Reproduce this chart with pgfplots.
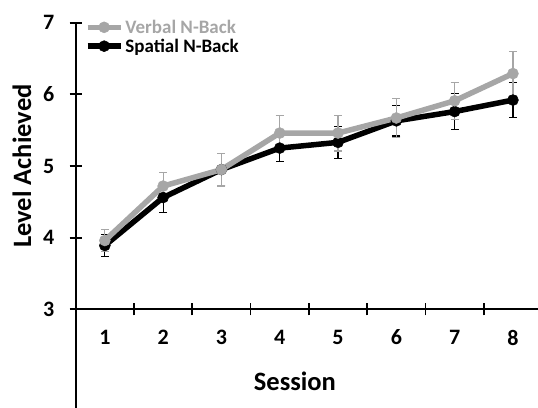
\documentclass[border=0pt]{standalone}
\usepackage{pgfplots}
\pgfplotsset{compat=1.18}
\usepackage{fontspec}
\setmainfont{Carlito}
\definecolor{vgray}{RGB}{166,166,166}
\pgfplotsset{mylegimg/.style={legend image code/.code={\draw[mark repeat=2,mark phase=2,##1] plot coordinates {(0pt,0pt) (16.5pt,0pt) (33pt,0pt)};}}}
\begin{document}
\begin{tikzpicture}
\path[use as bounding box, clip] (-75.7pt,-97.7pt) rectangle (462.3pt,309.3pt);
\begin{axis}[
  at={(0,0)}, anchor=south west,
  scale only axis, width=462.3pt, height=286.6pt,
  xmin=0.5, xmax=8.43, ymin=3, ymax=7,
  clip=false,
  axis x line=bottom, axis y line=left,
  axis line style={-, line width=2pt},
  xtick={1.5,2.5,...,7.5}, xticklabels={},
  extra x ticks={1,2,...,8},
  extra tick style={major tick length=0pt},
  ytick={3,4,5,6,7},
  tick align=center,
  major tick length=12pt,
  tick style={line width=1.8pt, black},
  /pgf/number format/assume math mode=true,
  tick label style={font=\fontsize{22}{24}\selectfont\bfseries},
  xticklabel style={yshift=-17pt},
  yticklabel style={xshift=-12pt},
  reverse legend,
  legend cell align=left,
  legend style={draw=none, fill=none, at={(axis description cs:0,1)}, anchor=north west,
    xshift=6pt, yshift=7pt, font=\fontsize{19}{21}\selectfont\bfseries,
    row sep=0pt},
]
\addplot[mylegimg, black, line width=5.5pt, mark=*, mark size=5.5pt, mark options={solid, line width=0.5pt},
  error bars/.cd, y dir=both, y explicit,
  error bar style={line width=1.2pt, black},
  error mark options={rotate=90, mark size=4pt, line width=1.2pt, black}]
  table[x=x, y=y, y error=e] {
x y e
1 3.89 0.15
2 4.56 0.21
3 4.95 0.22
4 5.25 0.19
5 5.33 0.22
6 5.63 0.21
7 5.76 0.25
8 5.92 0.24
};
\addlegendentry{Spatial N-Back}
\addplot[mylegimg, vgray, line width=5.5pt, mark=*, mark size=5.5pt, mark options={solid, line width=0.5pt},
  error bars/.cd, y dir=both, y explicit,
  error bar style={line width=1.2pt, vgray},
  error mark options={rotate=90, mark size=4pt, line width=1.2pt, vgray}]
  table[x=x, y=y, y error=e] {
x y e
1 3.96 0.15
2 4.72 0.19
3 4.95 0.23
4 5.46 0.24
5 5.46 0.25
6 5.67 0.27
7 5.91 0.26
8 6.29 0.31
};
\addlegendentry{\textcolor{vgray}{Verbal N-Back}}
\draw[line width=2pt] (axis cs:0.5,3) -- ++(0pt,-100pt);
\path (axis cs:0.5,5) ++(-53.7pt,0pt) node[rotate=90, font=\fontsize{26.5}{28}\selectfont\bfseries] {Level Achieved};
\path (axis cs:4.26,3) ++(0pt,-72pt) node[font=\fontsize{26.5}{28}\selectfont\bfseries] {Session};
\end{axis}
\end{tikzpicture}
\end{document}
